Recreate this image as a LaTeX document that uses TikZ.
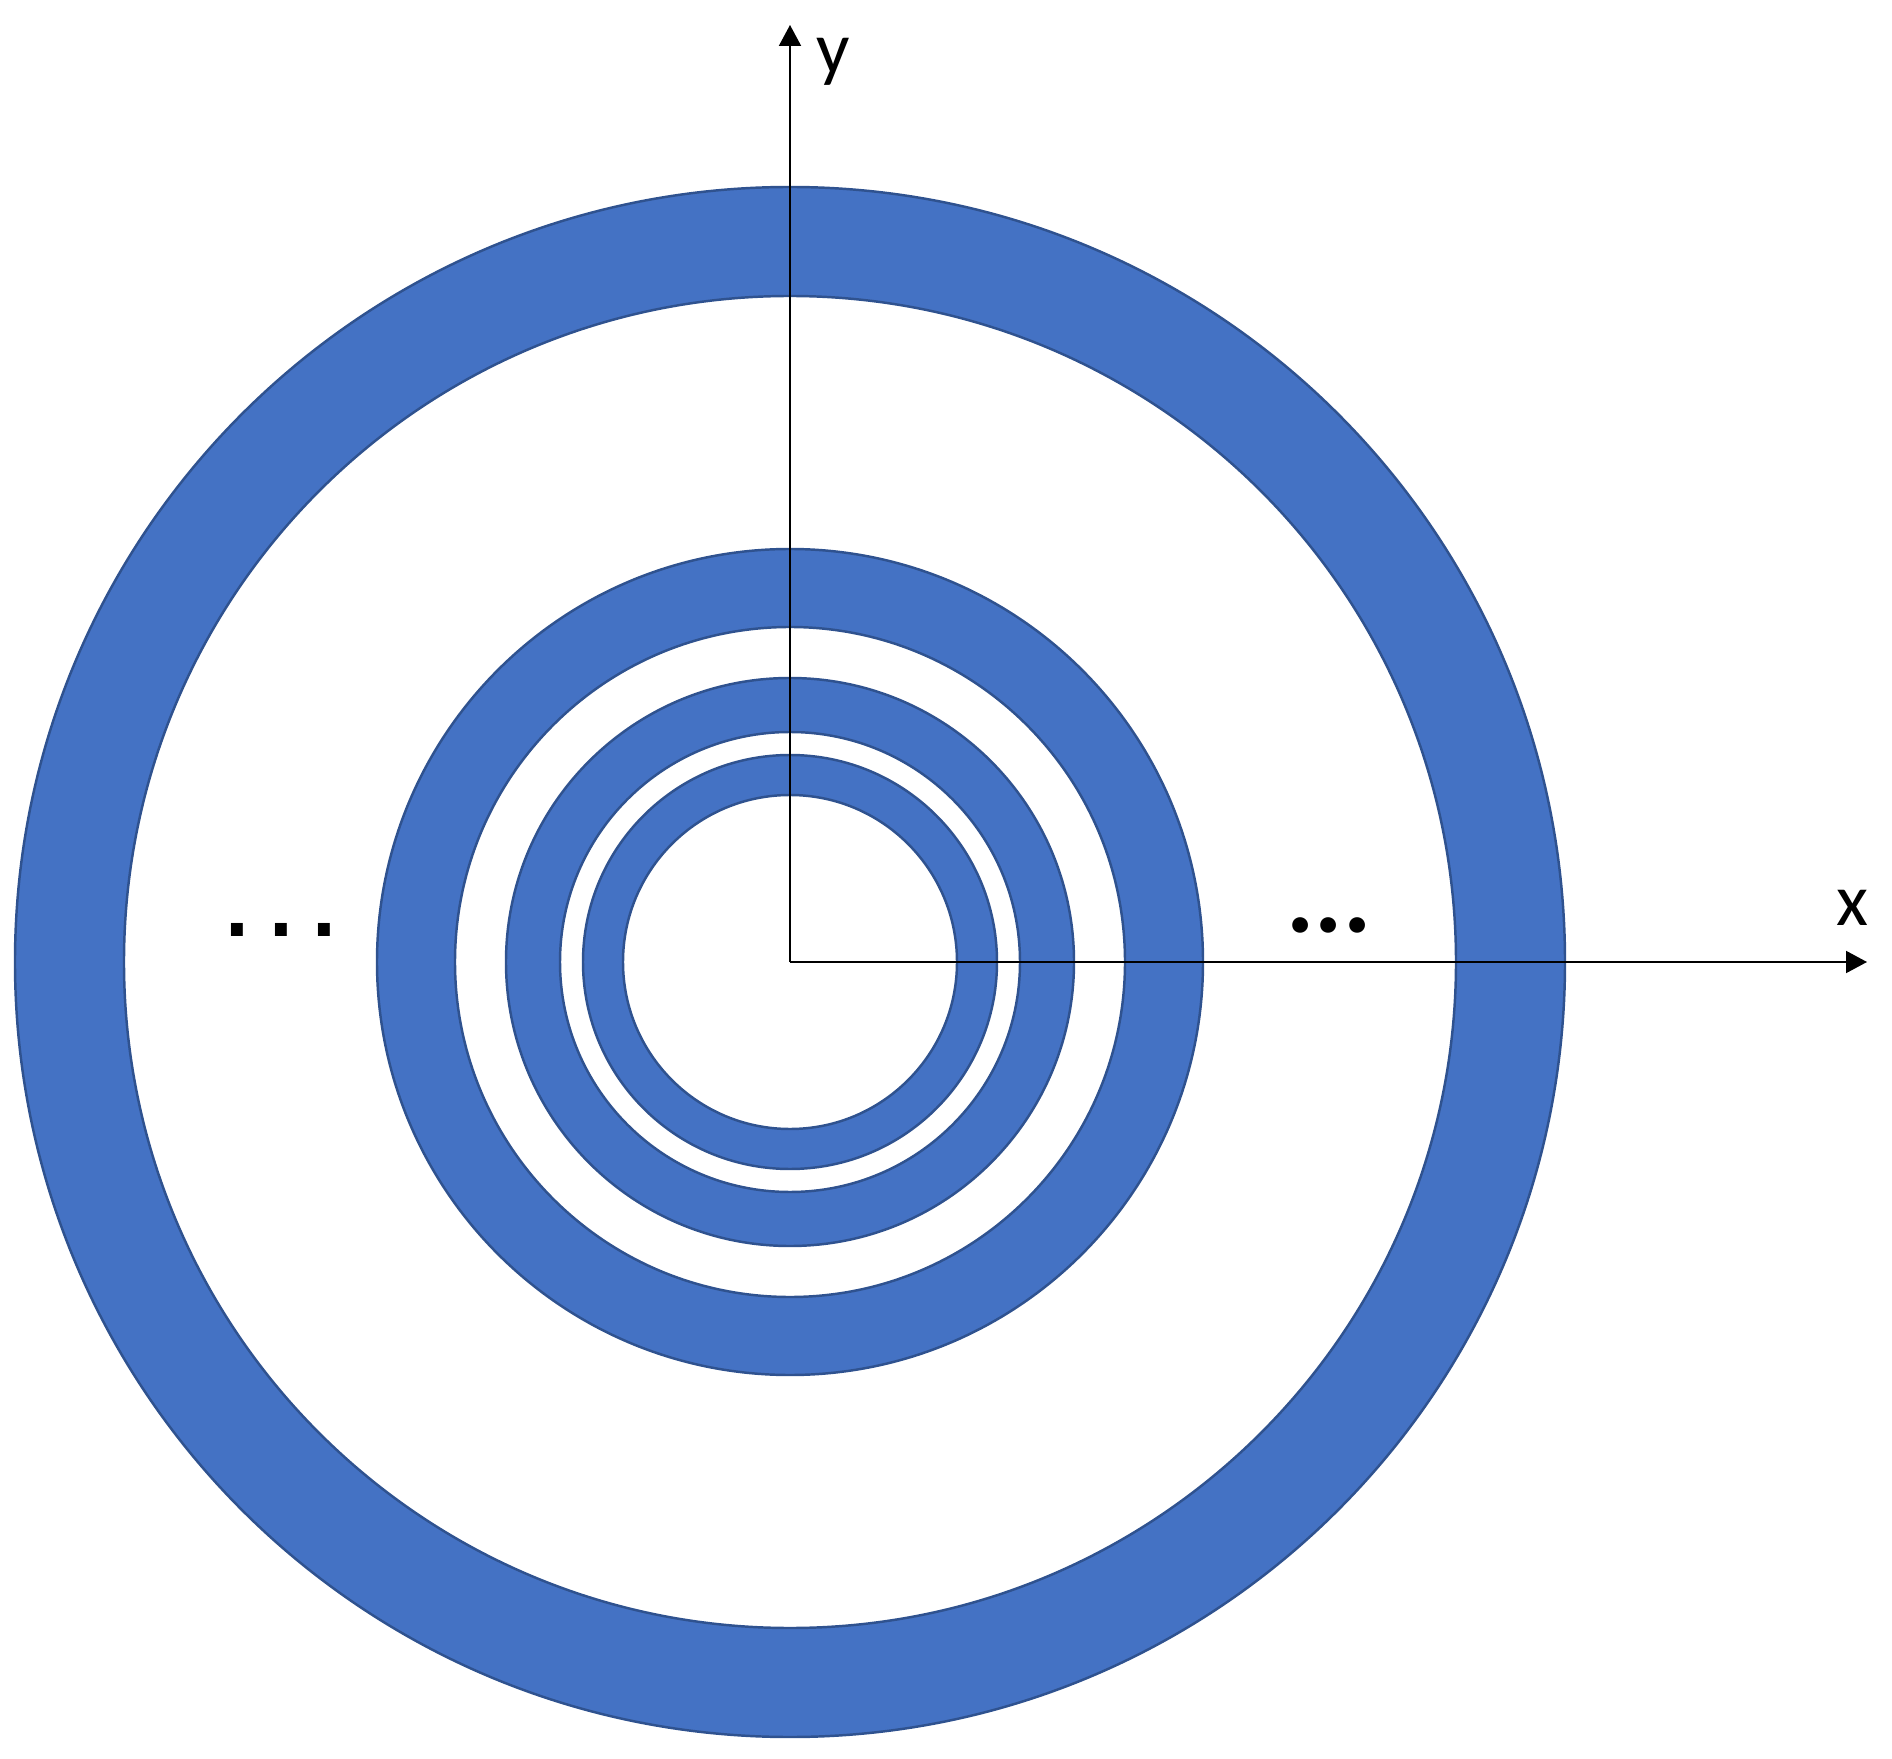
\documentclass[tikz,border=0pt]{standalone}
\usepackage{fontspec}
\usepackage{tikz}
\usetikzlibrary{arrows.meta, calc}
\newfontfamily\labelfont{Carlito}
\newfontfamily\monofont{DejaVu Sans Mono}
\definecolor{ring-blue}{RGB}{68,114,196}
\definecolor{ring-edge}{RGB}{47,82,143}
\tikzset{%
    ring/.style={%
        fill=ring-blue,
        draw=ring-edge,
        line width=0.7pt,
        even odd rule,
    },
    axis/.style={%
        -{Triangle[length=0.21cm, width=0.22cm]},
        line width=0.55pt,
        black,
    },
    axislabel/.style={%
        inner sep=0pt,
        anchor=base,
        font=\labelfont\fontsize{21}{24}\selectfont,
    },
    dotsleft/.style={%
        inner sep=0pt,
        anchor=base,
        font=\monofont\bfseries\fontsize{20.7}{24}\selectfont,
    },
    dotsright/.style={%
        inner sep=0pt,
        anchor=base,
        font=\labelfont\bfseries\fontsize{30}{34}\selectfont,
    },
}

\begin{document}
\begin{tikzpicture}[x=0.01cm, y=0.01cm]
  \useasboundingbox (-790, -796) rectangle (1102, 962);
  \coordinate (origin) at (0, 0);
  \coordinate (x_end) at (1077, 0);
  \coordinate (y_end) at (0, 937);

  % rings, outer to inner
  \foreach \router/\rinner in {775/666, 413/335, 284/230, 207/167}
    \path[ring] (origin) circle[radius=\router] (origin) circle[radius=\rinner];

  \draw[axis] (origin) -- (x_end);
  \draw[axis] (origin) -- (y_end);

  \node[axislabel] (x_label) at (1062, 37) {x};
  \node[axislabel] (y_label) at (43, 888) {y};

  \node[dotsleft] (dots_left) at (-509, 25) {...};
  \node[dotsright] (dots_right) at (539, 29) {...};
\end{tikzpicture}
\end{document}
